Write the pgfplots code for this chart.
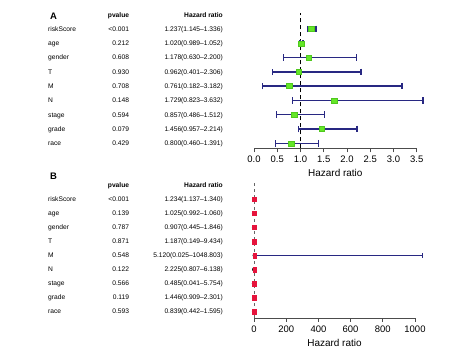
\documentclass[border=0pt]{standalone}
\usepackage{fontspec}
\setmainfont{Liberation Sans}
\usepackage{pgfplots}
\pgfplotsset{compat=1.18}
\usepackage{pgfplotstable}
\definecolor{navy}{RGB}{40,40,130}
\definecolor{limeg}{RGB}{100,230,40}
\definecolor{limed}{RGB}{80,200,30}
\definecolor{redm}{RGB}{230,20,60}

\pgfplotstableread{
name hr lo hi row
riskScore 1.237 1.145 1.336 9
age 1.020 0.989 1.052 8
gender 1.178 0.630 2.200 7
T 0.962 0.401 2.306 6
M 0.761 0.182 3.182 5
N 1.729 0.823 3.632 4
stage 0.857 0.486 1.512 3
grade 1.456 0.957 2.214 2
race 0.800 0.460 1.391 1
}\dataA

\pgfplotstableread{
name hr lo hi row
riskScore 1.234 1.137 1.340 9
age 1.025 0.992 1.060 8
gender 0.907 0.445 1.846 7
T 1.187 0.149 9.434 6
M 5.120 0.025 1048.803 5
N 2.225 0.807 6.138 4
stage 0.485 0.041 5.754 3
grade 1.446 0.909 2.301 2
race 0.839 0.442 1.595 1
}\dataB

\tikzset{tab/.style={font=\fontsize{6.7}{8}\selectfont, inner sep=0pt},
  tabh/.style={font=\fontsize{6.7}{8}\selectfont\bfseries, inner sep=0pt}}
\newcommand\trow[4]{%
 \node[tab,anchor=base west] at ([xshift=-206bp,yshift=-2.3bp]axis cs:0,#1) {#2};
 \node[tab,anchor=base east] at ([xshift=-124.7bp,yshift=-2.3bp]axis cs:0,#1) {#3};
 \node[tab,anchor=base east] at ([xshift=-31bp,yshift=-2.3bp]axis cs:0,#1) {#4};
}
\newcommand\thead{%
 \node[tabh,anchor=base east] at ([xshift=-124.7bp,yshift=-2.3bp]axis cs:0,10) {pvalue};
 \node[tabh,anchor=base east] at ([xshift=-31bp,yshift=-2.3bp]axis cs:0,10) {Hazard ratio};
}

\pgfplotsset{
 forest/.style={
  scale only axis, clip=false,
  axis x line*=bottom, axis y line=none,
  ytick=\empty,
  tick align=outside,
  x axis line style={black!70, line width=0.8bp},
  xtick style={black!70, line width=0.8bp},
  major tick length=4bp,
  ticklabel style={font=\fontsize{9.5}{11}\selectfont},
  xlabel style={font=\fontsize{10}{12}\selectfont},
  /pgf/number format/assume math mode=true,
  xlabel={Hazard ratio},
 }
}

\begin{document}
\begin{tikzpicture}
\path[use as bounding box] (0,0) rectangle (474bp,351bp);

% Panel A
\begin{axis}[forest,
  at={(254bp,202.7bp)}, anchor=south west,
  width=162.7bp, height=135.3bp,
  xmin=0, xmax=3.5, ymin=0.65, ymax=10.12,
  xtick={0,0.5,...,3.5},
  xticklabel style={/pgf/number format/.cd, fixed, fixed zerofill, precision=1},
 ]
 \addplot[black, line width=1.3bp, dash pattern=on 4bp off 3bp] coordinates {(1,0.65) (1,10.12)};
 \addplot[only marks, mark=none,
   error bars/.cd, x dir=both, x explicit, error mark=|,
   error bar style={draw=navy, solid, line width=1.5bp},
   error mark options={draw=navy, solid, line width=1.4bp, mark size=3.3bp}]
   table[x=hr, y=row, x error plus expr=\thisrow{hi}-\thisrow{hr}, x error minus expr=\thisrow{hr}-\thisrow{lo}] {\dataA};
 \addplot[only marks, mark=square*, mark size=2.9bp, mark options={fill=limeg, draw=limed, line width=0.4bp, yscale=0.85}]
   table[x=hr, y=row] {\dataA};
 \node[font=\fontsize{9.5}{11}\selectfont\bfseries, inner sep=0pt, anchor=west] at ([xshift=-204bp]axis cs:0,9.89) {A};
 \thead
 \trow{9}{riskScore}{<0.001}{1.237(1.145\textendash1.336)}
 \trow{8}{age}{0.212}{1.020(0.989\textendash1.052)}
 \trow{7}{gender}{0.608}{1.178(0.630\textendash2.200)}
 \trow{6}{T}{0.930}{0.962(0.401\textendash2.306)}
 \trow{5}{M}{0.708}{0.761(0.182\textendash3.182)}
 \trow{4}{N}{0.148}{1.729(0.823\textendash3.632)}
 \trow{3}{stage}{0.594}{0.857(0.486\textendash1.512)}
 \trow{2}{grade}{0.079}{1.456(0.957\textendash2.214)}
 \trow{1}{race}{0.429}{0.800(0.460\textendash1.391)}
\end{axis}

% Panel B
\begin{axis}[forest,
  at={(254bp,33bp)}, anchor=south west,
  width=161bp, height=134.7bp,
  xmin=0, xmax=1000, ymin=0.537, ymax=10.14,
  xtick={0,200,...,1000},
  xticklabel style={/pgf/number format/.cd, fixed, 1000 sep={}},
 ]
 \addplot[black!60, line width=0.8bp, dash pattern=on 3bp off 3bp] coordinates {(1,0.537) (1,10.14)};
 \addplot[only marks, mark=none,
   error bars/.cd, x dir=both, x explicit, error mark=|,
   error bar style={draw=navy, solid, line width=1.3bp},
   error mark options={draw=navy, solid, line width=1.2bp, mark size=2.2bp}]
   table[x=hr, y=row, x error plus expr=\thisrow{hi}-\thisrow{hr}, x error minus expr=\thisrow{hr}-\thisrow{lo}] {\dataB};
 \addplot[only marks, mark=square*, mark size=2.3bp, mark options={fill=redm, draw=redm, line width=0.3bp, xscale=0.7}]
   table[x=hr, y=row] {\dataB};
 \node[font=\fontsize{9.5}{11}\selectfont\bfseries, inner sep=0pt, anchor=west] at ([xshift=-204bp]axis cs:0,10.62) {B};
 \thead
 \trow{9}{riskScore}{<0.001}{1.234(1.137\textendash1.340)}
 \trow{8}{age}{0.139}{1.025(0.992\textendash1.060)}
 \trow{7}{gender}{0.787}{0.907(0.445\textendash1.846)}
 \trow{6}{T}{0.871}{1.187(0.149\textendash9.434)}
 \trow{5}{M}{0.548}{5.120(0.025\textendash1048.803)}
 \trow{4}{N}{0.122}{2.225(0.807\textendash6.138)}
 \trow{3}{stage}{0.566}{0.485(0.041\textendash5.754)}
 \trow{2}{grade}{0.119}{1.446(0.909\textendash2.301)}
 \trow{1}{race}{0.593}{0.839(0.442\textendash1.595)}
\end{axis}
\end{tikzpicture}
\end{document}
